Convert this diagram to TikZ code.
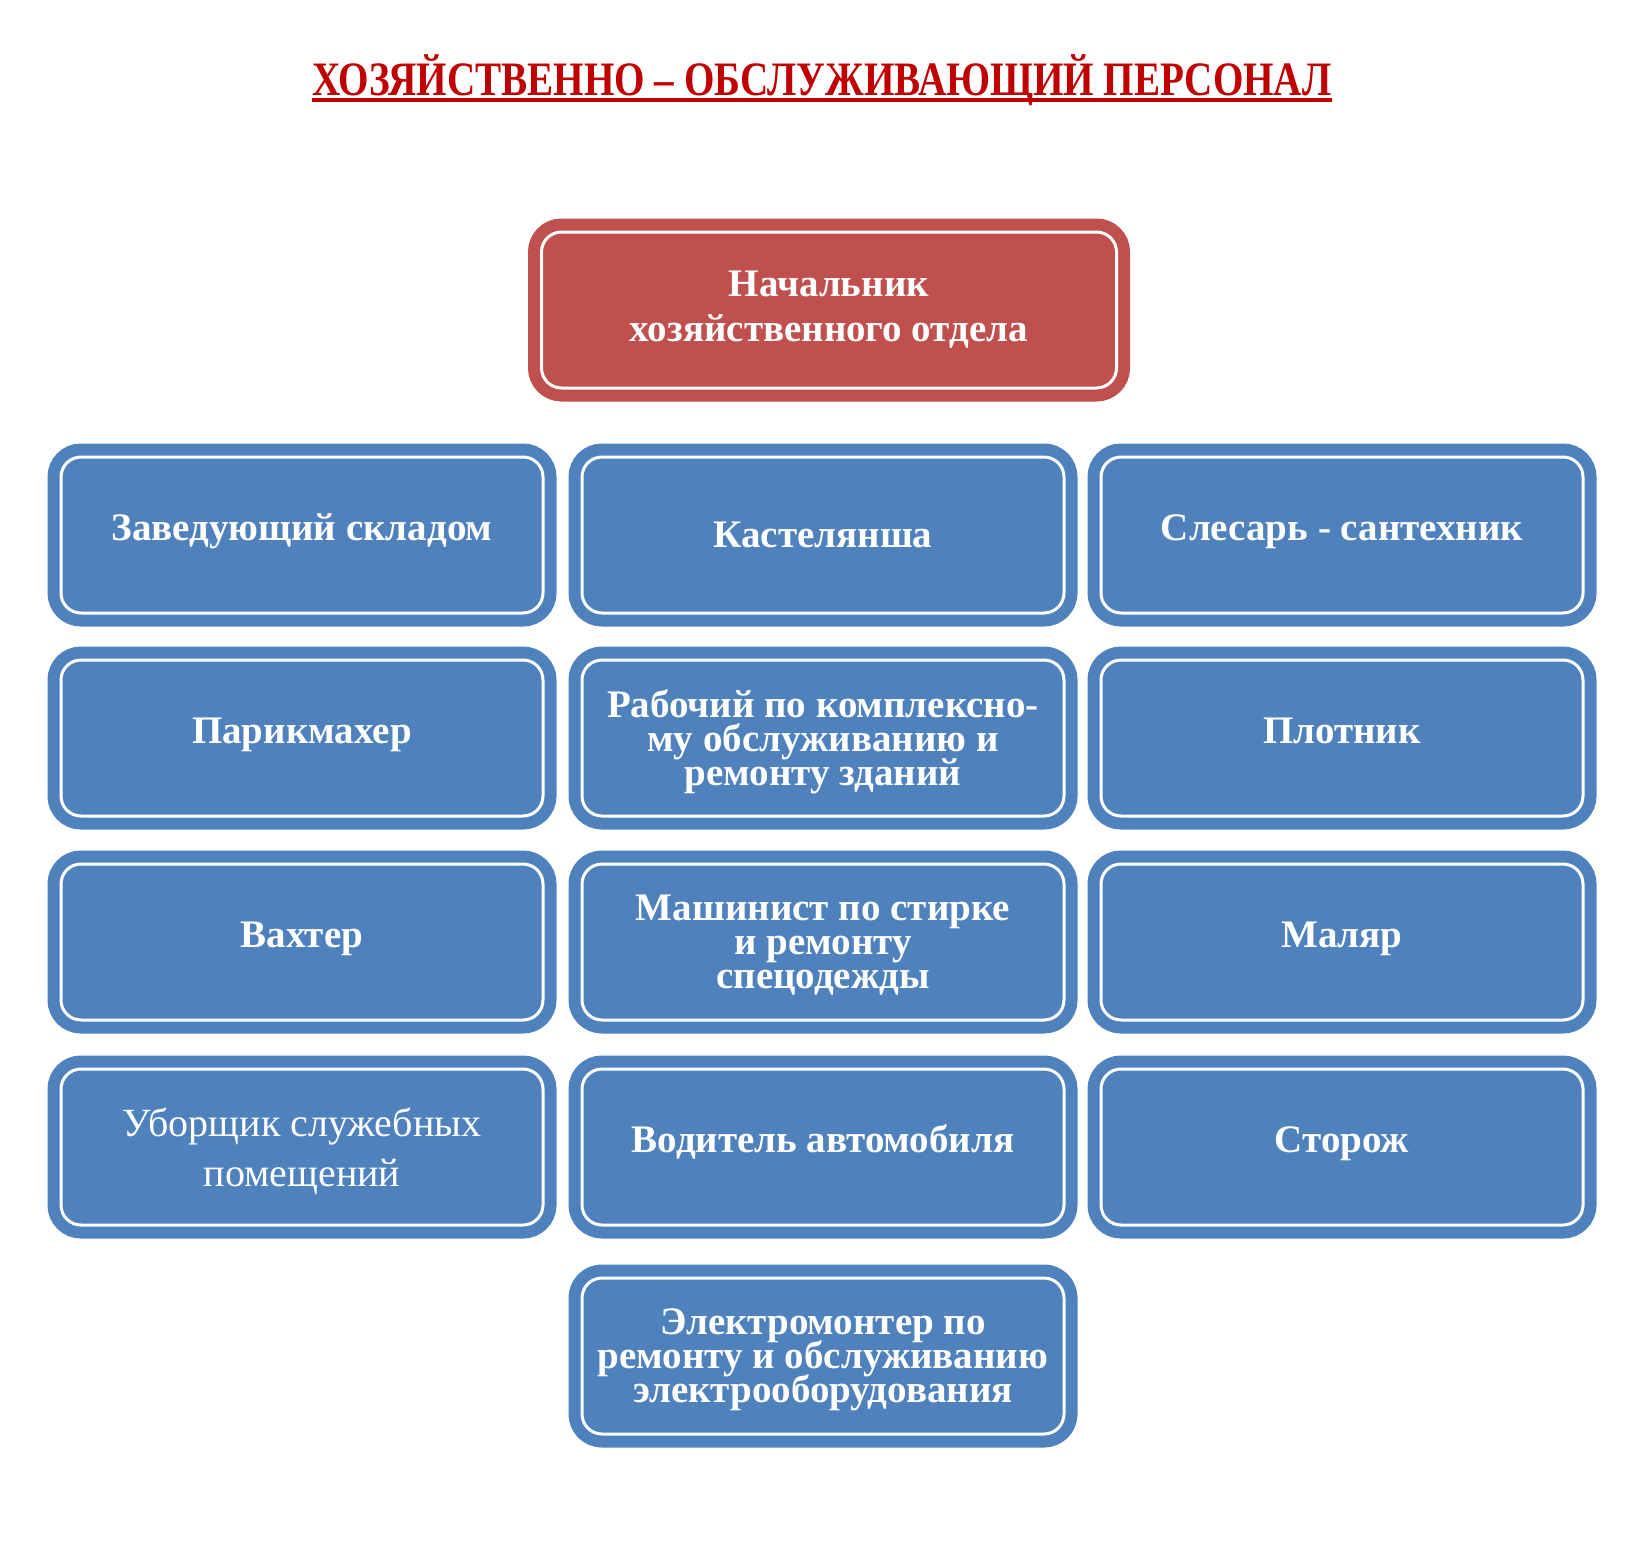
\documentclass[tikz,border=0pt]{standalone}
\usepackage{fontspec}
\setmainfont{Liberation Serif}
\newfontfamily\titlefont[FakeStretch=0.815]{Liberation Serif}
\definecolor{staffblue}{RGB}{79,129,189}
\definecolor{chiefred}{RGB}{192,80,77}
\definecolor{titlered}{RGB}{192,0,0}
\setlength{\lineskiplimit}{-20pt}
\begin{document}
\begin{tikzpicture}[x=0.5pt, y=-0.5pt,
		staff/.style={draw=staffblue, fill=staffblue, double=white, double distance=1.5pt, line width=6pt, rounded corners=10pt, minimum width=241pt, minimum height=78pt, inner sep=2pt, align=center, text=white, font=\fontsize{19.5}{17}\selectfont\bfseries},
		oneline/.style={text height=11pt, text depth=6pt},
		lowered/.style={text depth=0pt},
		chief/.style={staff, draw=chiefred, fill=chiefred, minimum width=287.5pt, font=\fontsize{19.5}{22.5}\selectfont\bfseries},
		title/.style={inner sep=0pt, text=titlered, font=\titlefont\fontsize{24}{24}\selectfont\bfseries}]

		\useasboundingbox (0,0) rectangle (1649,1541);

		% Title
		\node[title] (title) at (822,80) {ХОЗЯЙСТВЕННО – ОБСЛУЖИВАЮЩИЙ ПЕРСОНАЛ};
		\draw[titlered, line width=2pt] ([yshift=-2.5pt]title.base west) -- ([yshift=-2.5pt]title.base east);

		% Head
		\node[chief] (head) at (829,310) {Начальник\\хозяйственного отдела};

		% Staff
		\node[staff, oneline] (store) at (302,535) {Заведующий складом};
		\node[staff] (linen) at (823,535) {Кастелянша};
		\node[staff, oneline] (plumber) at (1342,535) {Слесарь - сантехник};
		\node[staff, oneline] (barber) at (302,738) {Парикмахер};
		\node[staff, lowered] (repair) at (823,738) {Рабочий по комплексно-\\му обслуживанию и\\ремонту зданий};
		\node[staff, oneline] (carpenter) at (1342,738) {Плотник};
		\node[staff, oneline] (watch) at (302,942) {Вахтер};
		\node[staff, lowered] (laundry) at (823,942) {Машинист по стирке\\и ремонту\\спецодежды};
		\node[staff, oneline] (painter) at (1342,942) {Маляр};
		\node[staff, lowered, font=\fontsize{20}{25}\selectfont] (cleaner) at (302,1147) {Уборщик служебных\\помещений};
		\node[staff, oneline] (driver) at (823,1147) {Водитель автомобиля};
		\node[staff, oneline] (guard) at (1342,1147) {Сторож};
		\node[staff, lowered] (electric) at (823,1356) {Электромонтер по\\ремонту и обслуживанию\\электрооборудования};

	\end{tikzpicture}
\end{document}
